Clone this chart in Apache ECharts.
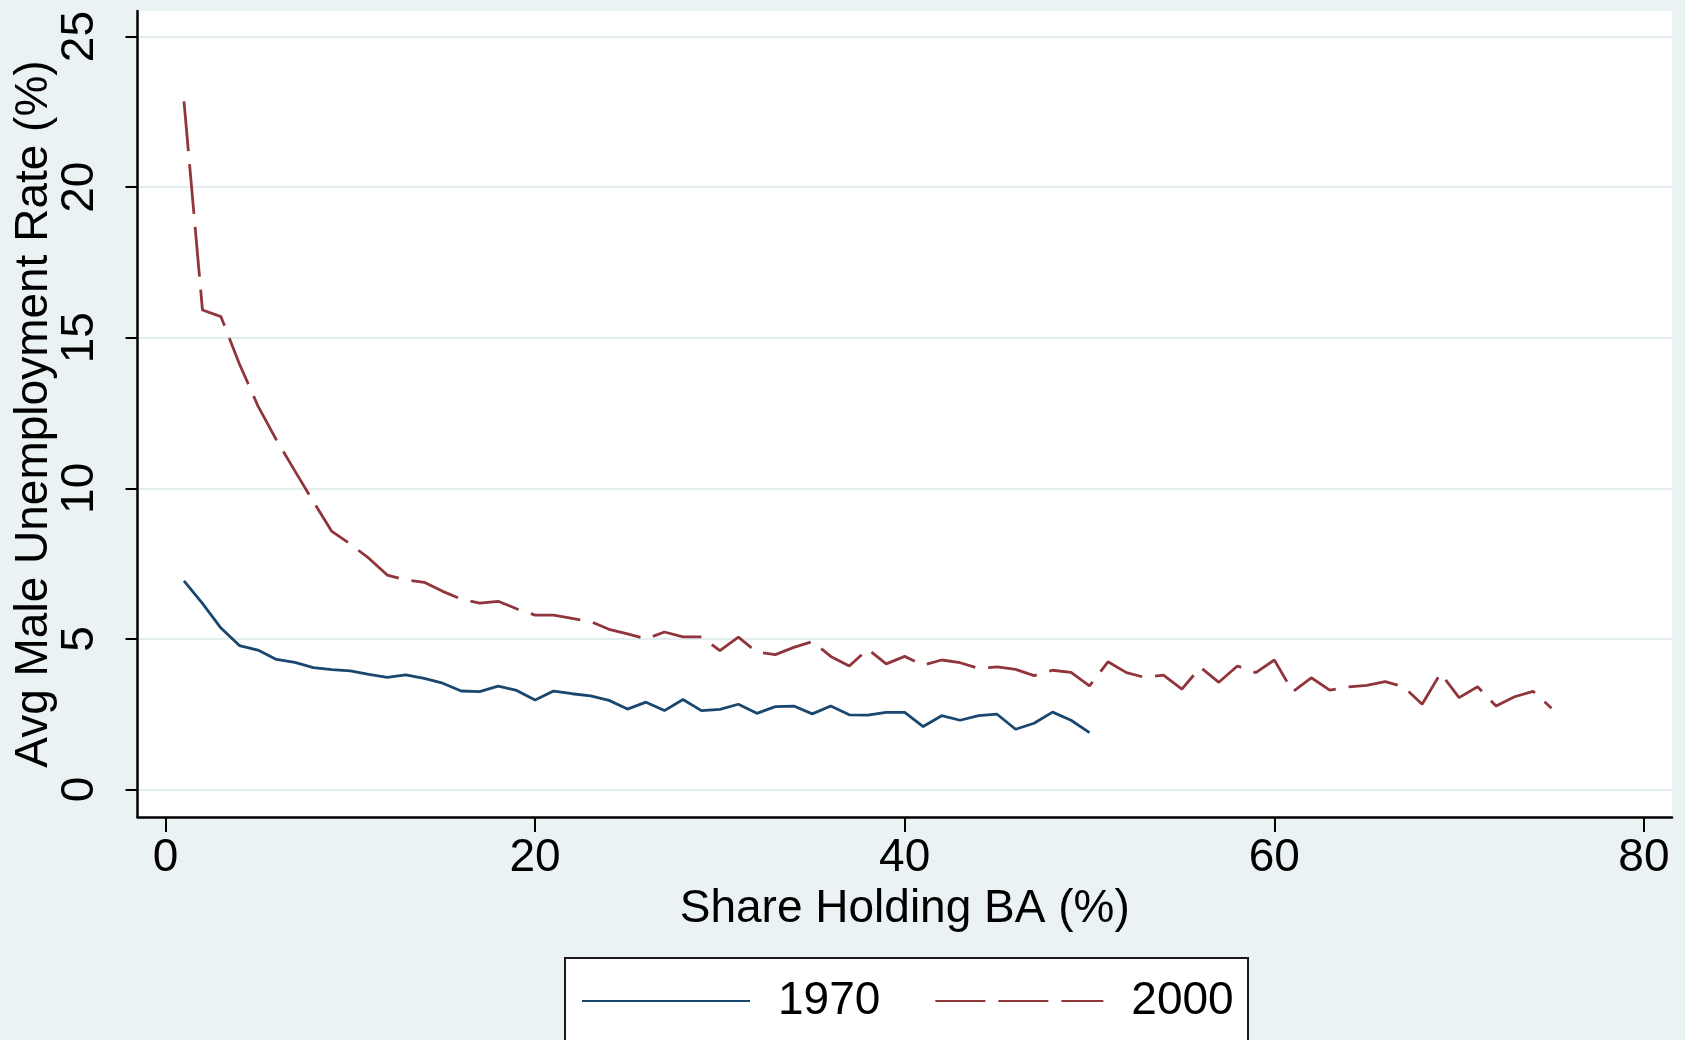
<!DOCTYPE html>
<html>
<head>
<meta charset="utf-8">
<title>Avg Male Unemployment Rate by Share Holding BA</title>
<script src="https://cdn.jsdelivr.net/npm/echarts@6/dist/echarts.min.js"></script>
<style>
  html, body {
    margin: 0;
    padding: 0;
    background: #eaf2f3;
  }
  #chart {
    width: 1685px;
    height: 1040px;
  }
</style>
</head>
<body>
<div id="chart"></div>
<script>
// share holding BA (%), one point per integer percent
const share1970 = [1, 2, 3, 4, 5, 6, 7, 8, 9, 10, 11, 12, 13, 14, 15, 16, 17, 18, 19, 20,
  21, 22, 23, 24, 25, 26, 27, 28, 29, 30, 31, 32, 33, 34, 35, 36, 37, 38, 39, 40,
  41, 42, 43, 44, 45, 46, 47, 48, 49, 50]
const unemp1970 = [6.93, 6.18, 5.36, 4.78, 4.63, 4.32, 4.22, 4.05, 3.98, 3.94,
  3.82, 3.72, 3.81, 3.69, 3.53, 3.27, 3.25, 3.43, 3.29, 2.97,
  3.27, 3.18, 3.11, 2.96, 2.67, 2.90, 2.62, 2.99, 2.62, 2.66,
  2.83, 2.53, 2.75, 2.77, 2.51, 2.77, 2.48, 2.47, 2.56, 2.56,
  2.09, 2.45, 2.30, 2.45, 2.50, 2.00, 2.20, 2.57, 2.30, 1.89]

const share2000 = [1, 2, 3, 4, 5, 6, 7, 8, 9, 10, 11, 12, 13, 14, 15, 16, 17, 18, 19, 20,
  21, 22, 23, 24, 25, 26, 27, 28, 29, 30, 31, 32, 33, 34, 35, 36, 37, 38, 39, 40,
  41, 42, 43, 44, 45, 46, 47, 48, 49, 50, 51, 52, 53, 54, 55, 56, 57, 58, 59, 60,
  61, 62, 63, 64, 65, 66, 67, 68, 69, 70, 71, 72, 73, 74, 75]
const unemp2000 = [22.85, 15.92, 15.70, 14.13, 12.74, 11.61, 10.58, 9.56, 8.57, 8.15,
  7.68, 7.12, 6.96, 6.88, 6.58, 6.32, 6.19, 6.25, 6.00, 5.79,
  5.79, 5.68, 5.58, 5.32, 5.17, 5.00, 5.23, 5.07, 5.07, 4.61,
  5.06, 4.56, 4.48, 4.72, 4.91, 4.42, 4.10, 4.66, 4.17, 4.42,
  4.13, 4.30, 4.21, 4.02, 4.07, 3.99, 3.78, 3.96, 3.89, 3.44,
  4.24, 3.88, 3.72, 3.80, 3.33, 4.06, 3.56, 4.10, 3.88, 4.30,
  3.25, 3.71, 3.30, 3.41, 3.46, 3.58, 3.41, 2.83, 3.86, 3.05,
  3.41, 2.77, 3.08, 3.26, 2.70]

const xTicks = [0, 20, 40, 60, 80]
const yTicks = [0, 5, 10, 15, 20, 25]

const navy = '#1a476f'
const maroon = '#90353b'
const fontFamily = '"Liberation Sans", Arial, sans-serif'
const fontSize = 46

const chart = echarts.init(document.getElementById('chart'))

const pairs = (xs, ys) => xs.map((x, i) => [x, ys[i]])

const option = {
  backgroundColor: '#eaf2f3',
  animation: false,
  textStyle: { fontFamily },
  grid: {
    left: 137.5,
    right: 13,
    top: 11,
    bottom: 223,
    outerBoundsMode: 'none',
    containLabel: false,
    show: true,
    backgroundColor: '#ffffff',
    borderWidth: 0
  },
  xAxis: {
    type: 'value',
    min: -1.515,
    max: 81.52,
    name: 'Share Holding BA (%)',
    nameLocation: 'middle',
    nameGap: 68,
    nameTextStyle: { fontSize, color: '#000', fontFamily },
    axisLine: { onZero: false, lineStyle: { color: '#000', width: 2.5 } },
    axisTick: { customValues: xTicks, length: 15, lineStyle: { color: '#000', width: 2 } },
    axisLabel: { customValues: xTicks, fontSize, color: '#000', margin: 18, fontFamily },
    splitLine: { show: false }
  },
  yAxis: {
    type: 'value',
    min: -0.913,
    max: 25.85,
    name: 'Avg Male Unemployment Rate (%)',
    nameLocation: 'middle',
    nameGap: 80,
    nameMoveOverlap: false,
    nameRotate: 90,
    nameTextStyle: { fontSize, color: '#000', fontFamily },
    axisLine: { onZero: false, lineStyle: { color: '#000', width: 2.5 } },
    axisTick: { customValues: yTicks, length: 12, lineStyle: { color: '#000', width: 2 } },
    axisLabel: { customValues: yTicks, fontSize, color: '#000', rotate: 90, margin: 34, fontFamily },
    splitLine: { show: true, lineStyle: { color: '#e4eef0', width: 2 } }
  },
  legend: {
    left: 581,
    top: 978,
    padding: 0,
    itemWidth: 168,
    itemHeight: 20,
    itemGap: 54,
    itemStyle: { opacity: 0 },
    textStyle: { fontSize, color: '#000', fontFamily, padding: [0, 0, 0, 23], lineHeight: 46 },
    data: ['1970', '2000']
  },
  graphic: [
    {
      type: 'rect',
      z: -1,
      shape: { x: 565, y: 958, width: 683, height: 100 },
      style: { fill: '#ffffff', stroke: '#1a1a1a', lineWidth: 2 }
    }
  ],
  series: [
    {
      name: '1970',
      type: 'line',
      data: pairs(share1970, unemp1970),
      showSymbol: false,
      symbol: 'none',
      lineStyle: { color: navy, width: 2.8 },
      itemStyle: { color: navy }
    },
    {
      name: '2000',
      type: 'line',
      data: pairs(share2000, unemp2000),
      showSymbol: false,
      symbol: 'none',
      lineStyle: { color: maroon, width: 2.8, type: [50, 13] },
      itemStyle: { color: maroon }
    }
  ]
}

chart.setOption(option)
</script>
</body>
</html>
